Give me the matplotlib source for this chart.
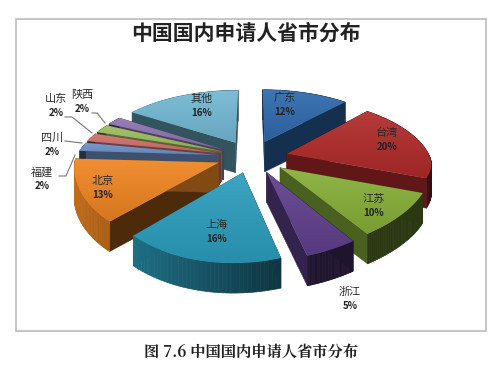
import numpy as np
import matplotlib
matplotlib.use("Agg")
import matplotlib.pyplot as plt
from matplotlib.colors import to_rgb
from matplotlib.patches import Polygon, Rectangle

plt.rcParams['font.family'] = ['Noto Sans CJK SC', 'DejaVu Sans']

# data, clockwise from 12 o'clock
names = ["广东", "台湾", "江苏", "浙江", "上海", "北京", "福建", "四川", "山东", "陕西", "其他"]
shares = [12, 20, 10, 5, 16, 13, 2, 2, 2, 2, 16]
colors = ["#2f69ad", "#b02a2a", "#86ae37", "#5f3f8c", "#2b9dbd", "#ee8420",
          "#6f93c9", "#d0706c", "#9dbd62", "#8c74b0", "#72b8d2"]

# how far each slice is pulled out (fraction of radius)
explode = [0.25, 0.25, 0.25, 0.25, 0.25, 0.25, 0.23, 0.23, 0.23, 0.23, 0.25]

# label position in pixels
label_pos = [(285, 98), (387, 133), (374, 199), (350, 292), (217, 225),
             (103, 181), (42, 172), (52, 138), (56, 99), (82, 95), (202, 99)]

CX, CY = 252, 157
R, RK, PY, H = 143, 68, 0.2, 30


def project(u, v, down=0.0):
    # the original's perspective is lopsided: far side squeezed, near side
    # sheared to the right and lifted on the right
    if v > 0:
        x = CX + R * u / (1 + 0.2 * v)
        y = CY - RK * v / (1 + PY * v)
    else:
        x = CX + R * u / (1 + 0.1 * v) - 9 * v
        y = CY - RK * v / (1 + PY * v) + (6 + 10 * u) * v
    return x, y + down


def mix(c, f):
    c = np.array(to_rgb(c))
    return tuple(c * f) if f <= 1 else tuple(c + (1 - c) * (f - 1))


fig = plt.figure(figsize=(5.0, 3.69), dpi=100)
ax = fig.add_axes([0, 0, 1, 1])

# frame round the chart
ax.add_patch(Rectangle((16, 19), 470, 312, fill=False, ec="#c0c0c0", lw=1.3))

edges = np.cumsum([0] + shares) / sum(shares) * 2 * np.pi
mids = (edges[:-1] + edges[1:]) / 2
order = np.argsort(-np.cos(mids))

for z, i in enumerate(order):
    a0, a1 = edges[i], edges[i + 1]
    du, dv = explode[i] * np.sin(mids[i]), explode[i] * np.cos(mids[i])
    t = np.linspace(a0, a1, 40)
    us = du + np.sin(t)
    vs = dv + np.cos(t)
    col = colors[i]
    zo = 1 + z * 0.1

    # outer wall, lighter towards the left
    def outer():
        for k in range(len(t) - 1):
            f = max(0.32, 0.42 - 0.4 * np.sin(t[k]))
            ax.add_patch(Polygon([project(us[k], vs[k]), project(us[k + 1], vs[k + 1]),
                                  project(us[k + 1], vs[k + 1], H), project(us[k], vs[k], H)],
                                 fc=mix(col, f), ec=mix(col, f), lw=0.5, zorder=zo))

    # radial walls from the apex
    def radial():
        apex = project(du, dv)
        apex_low = project(du, dv, H)
        for n, (u, v) in enumerate([(us[0], vs[0]), (us[-1], vs[-1])]):
            f = 0.32 if n == 0 else 0.55
            if i == 0 or i == 10:
                f = 0.45
            ax.add_patch(Polygon([apex, project(u, v), project(u, v, H), apex_low],
                                 fc=mix(col, f), ec=mix(col, f), lw=0.3, zorder=zo))

    if np.cos(mids[i]) > 0:
        outer()
        radial()
    else:
        radial()
        outer()

    # top face with a soft gradient
    top = [project(du, dv)] + [project(u, v) for u, v in zip(us, vs)]
    xs, ys = zip(*top)
    grad = np.linspace(0, 1, 64)[:, None, None] * np.ones((64, 4, 3))
    base = np.array(mix(col, 1.08))
    dark = np.array(mix(col, 0.9))
    img = ax.imshow(base + (dark - base) * grad, aspect="auto", zorder=zo + 0.05,
                    extent=(min(xs), max(xs), max(ys), min(ys)))
    clip = Polygon(top, fc="none", ec="none", transform=ax.transData)
    ax.add_patch(clip)
    img.set_clip_path(clip)

ax.set_xlim(0, 500)
ax.set_ylim(369, 0)
ax.axis("off")

for name, share, (x, y) in zip(names, shares, label_pos):
    ax.text(x, y, name, ha="center", va="center", fontsize=8, color="#2a2a2a", zorder=5)
    ax.text(x, y + 14, f"{share}%", ha="center", va="center", fontsize=7, color="#222222",
            fontweight="bold", zorder=5)

# leader lines for the thin slices
leaders = [
    ([59, 66, 75], [176, 176, 155]),
    ([65, 82], [141, 143]),
    ([65, 72, 92], [117, 117, 133]),
    ([92, 97, 105], [113, 113, 123]),
]
for lx, ly in leaders:
    ax.plot(lx, ly, color="#777777", lw=0.8, zorder=5)

ax.text(246, 33, "中国国内申请人省市分布", ha="center", va="center", fontsize=15,
        fontweight="bold", color="#222222")
ax.text(251, 352, "图 7.6 中国国内申请人省市分布", ha="center", va="center", fontsize=11,
        fontweight="bold", family=["Noto Serif CJK SC", "Noto Sans CJK SC", "DejaVu Sans"], color="#222222")

fig.savefig("out.png", dpi=100)
